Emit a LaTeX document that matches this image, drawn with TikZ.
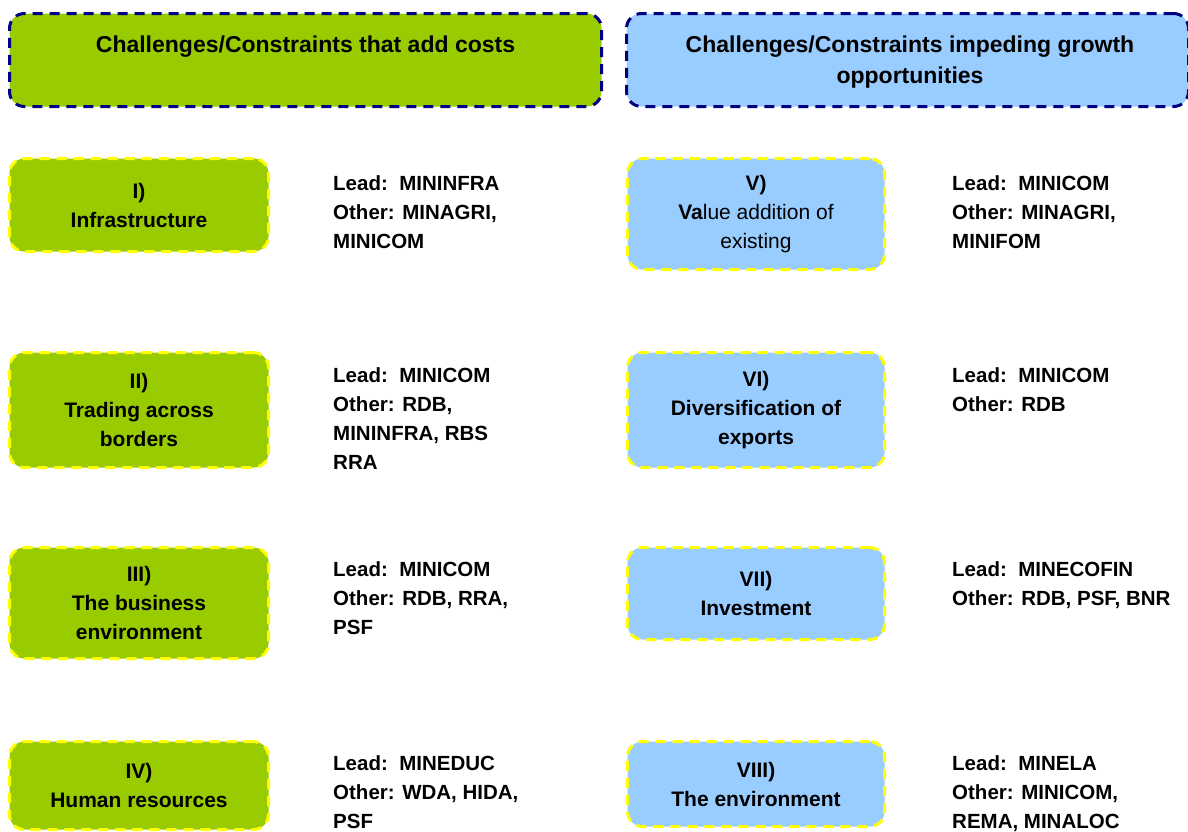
\documentclass[tikz,border=0pt]{standalone}
\usepackage{fontspec}
\setmainfont{Liberation Sans}
\definecolor{costgreen}{HTML}{99CC00}
\definecolor{growthblue}{HTML}{99CCFF}
\definecolor{navyedge}{HTML}{000080}
\definecolor{yellowedge}{HTML}{FFFF00}
\tikzset{
  headbox/.style={draw=navyedge, line width=3pt, dash pattern=on 10pt off 7pt, rounded corners=15pt},
  headtext/.style={align=center, font=\bfseries\fontsize{23}{31}\selectfont},
  areabox/.style={draw=yellowedge, line width=3pt, dash pattern=on 10pt off 7pt, rounded corners=15pt,
    align=center, font=\bfseries\fontsize{21}{29}\selectfont},
  leadtext/.style={anchor=north west, align=left, inner sep=0pt, font=\bfseries\fontsize{20.5}{29}\selectfont},
}
\begin{document}
\begin{tikzpicture}[x=1pt,y=-1pt]
            % Page frame
            \useasboundingbox (0,0) rectangle (1188,831);

            % Header boxes
            \node[headbox, fill=costgreen, minimum width=592pt, minimum height=93pt] (costbox) at (305.5,60) {};
            \node[headtext] (costtitle) at (305.5,47) {Challenges/Constraints that add costs};
            \node[headbox, fill=growthblue, minimum width=562pt, minimum height=93pt] (growthbox) at (907.5,60) {};
            \node[headtext] (growthtitle) at (910,62) {Challenges/Constraints impeding growth\\opportunities};

            % Cost areas
            \node[areabox, fill=costgreen, minimum width=259pt, minimum height=93pt] (infra) at (139,205) {I)\\Infrastructure};
            \node[areabox, fill=costgreen, minimum width=259pt, minimum height=115pt] (trade) at (139,410) {II)\\Trading across\\borders};
            \node[areabox, fill=costgreen, minimum width=259pt, minimum height=111pt] (business) at (139,603) {III)\\The business\\environment};
            \node[areabox, fill=costgreen, minimum width=259pt, minimum height=88pt] (human) at (139,785.5) {IV)\\Human resources};

            % Growth areas
            \node[areabox, fill=growthblue, minimum width=257pt, minimum height=111pt] (value) at (756,214) {V)\\Va{\mdseries lue addition of}\\{\mdseries existing}};
            \node[areabox, fill=growthblue, minimum width=257pt, minimum height=115pt] (divers) at (756,410) {VI)\\Diversification of\\exports};
            \node[areabox, fill=growthblue, minimum width=257pt, minimum height=92pt] (invest) at (756,593.5) {VII)\\Investment};
            \node[areabox, fill=growthblue, minimum width=257pt, minimum height=85pt] (environ) at (756,784) {VIII)\\The environment};

            % Lead institutions
            \node[leadtext] (infralead) at (333,175) {Lead:~~MININFRA\\Other: MINAGRI,\\MINICOM};
            \node[leadtext] (tradelead) at (333,367) {Lead:~~MINICOM\\Other: RDB,\\MININFRA, RBS\\RRA};
            \node[leadtext] (businesslead) at (333,561) {Lead:~~MINICOM\\Other: RDB, RRA,\\PSF};
            \node[leadtext] (humanlead) at (333,755) {Lead:~~MINEDUC\\Other: WDA, HIDA,\\PSF};
            \node[leadtext] (valuelead) at (952,175) {Lead:~~MINICOM\\Other: MINAGRI,\\MINIFOM};
            \node[leadtext] (diverslead) at (952,367) {Lead:~~MINICOM\\Other: RDB};
            \node[leadtext] (investlead) at (952,561) {Lead:~~MINECOFIN\\Other: RDB, PSF, BNR};
            \node[leadtext] (environlead) at (952,755) {Lead:~~MINELA\\Other: MINICOM,\\REMA, MINALOC};
        \end{tikzpicture}
\end{document}
